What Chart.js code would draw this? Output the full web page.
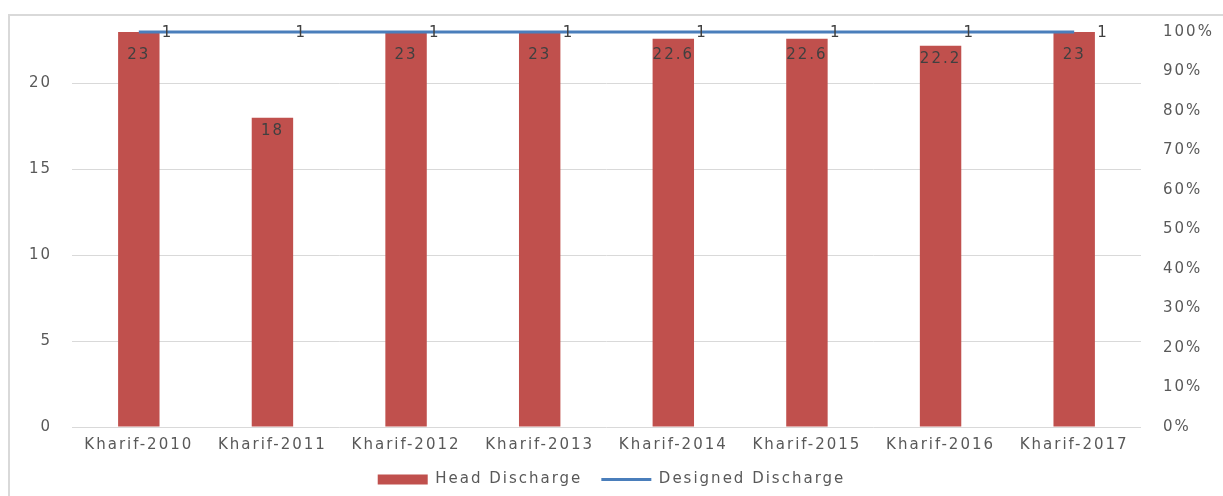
<!DOCTYPE html>
<html>
<head>
<meta charset="utf-8">
<script src="https://cdn.jsdelivr.net/npm/chart.js@4"></script>
<style>
  body { margin: 0; background: #fff; }
  #wrap { width: 1223px; height: 496px; }
</style>
</head>
<body>
<div id="wrap"><canvas id="chart" width="1223" height="496"></canvas></div>
<script>
// data
const categories = ['Kharif-2010', 'Kharif-2011', 'Kharif-2012', 'Kharif-2013', 'Kharif-2014', 'Kharif-2015', 'Kharif-2016', 'Kharif-2017'];
const headDischarge = [23, 18, 23, 23, 22.6, 22.6, 22.2, 23];
const designedDischarge = [1, 1, 1, 1, 1, 1, 1, 1];

Chart.defaults.font.family = 'DejaVu Sans';
Chart.defaults.font.size = 15;
Chart.defaults.color = '#595959';

// wide text look + outer frame
const framePlugin = {
    id: 'frame',
    beforeUpdate(chart) { chart.ctx.letterSpacing = '2px'; },
    beforeDraw(chart) {
        const ctx = chart.ctx;
        ctx.letterSpacing = '2px';
        ctx.save();
        ctx.strokeStyle = '#d9d9d9';
        ctx.lineWidth = 2;
        ctx.strokeRect(9, 15, 1400, 700);
        ctx.restore();
    }
};

// value labels
const labelPlugin = {
    id: 'valueLabels',
    afterDatasetsDraw(chart) {
        const ctx = chart.ctx;
        const top = chart.chartArea.top;
        ctx.save();
        ctx.font = '15px "DejaVu Sans"';
        ctx.fillStyle = '#404040';
        ctx.textBaseline = 'middle';

        ctx.textAlign = 'center';
        chart.getDatasetMeta(0).data.forEach((bar, i) => {
            const y = Math.max(bar.y + 13, top + 23);
            ctx.fillText(String(headDischarge[i]), bar.x, y);
        });

        ctx.textAlign = 'left';
        chart.getDatasetMeta(1).data.forEach((pt, i) => {
            ctx.fillText(String(designedDischarge[i]), pt.x + 23, pt.y + 1);
        });
        ctx.restore();
    }
};

const ctx = document.getElementById('chart').getContext('2d');
new Chart(ctx, {
    type: 'bar',
    data: {
        labels: categories,
        datasets: [{
            label: 'Head Discharge',
            data: headDischarge,
            backgroundColor: '#c0504d',
            yAxisID: 'y',
            order: 2,
            categoryPercentage: 1,
            barPercentage: 0.31
        }, {
            type: 'line',
            label: 'Designed Discharge',
            data: designedDischarge,
            borderColor: '#4a7ebb',
            backgroundColor: '#4a7ebb',
            borderWidth: 3,
            pointRadius: 0,
            clip: false,
            yAxisID: 'y1',
            order: 1
        }]
    },
    options: {
        responsive: false,
        animation: false,
        layout: { padding: { left: 0, right: 0, top: 32, bottom: -1 } },
        plugins: {
            tooltip: { enabled: false },
            legend: {
                position: 'bottom',
                labels: {
                    usePointStyle: true,
                    pointStyleWidth: 50,
                    boxHeight: 10,
                    padding: 19,
                    color: '#595959',
                    sort: (a, b) => a.datasetIndex - b.datasetIndex,
                    generateLabels(chart) {
                        const items = Chart.defaults.plugins.legend.labels.generateLabels(chart);
                        items.forEach(it => {
                            if (it.datasetIndex === 0) { it.pointStyle = 'rect'; it.lineWidth = 0; }
                            else { it.pointStyle = 'line'; it.lineWidth = 3; }
                        });
                        return items;
                    }
                }
            }
        },
        scales: {
            x: {
                grid: { display: false, drawTicks: false },
                border: { display: false },
                ticks: { padding: 9, maxRotation: 0 },
                afterFit(scale) { scale.height = 26; }
            },
            y: {
                position: 'left',
                min: 0,
                max: 23,
                border: { display: false },
                grid: {
                    drawTicks: false,
                    color: c => (c.tick.value % 5 === 0 ? '#d9d9d9' : '#f2f2f2')
                },
                ticks: {
                    stepSize: 1,
                    autoSkip: false,
                    padding: 20,
                    callback: v => (v % 5 === 0 ? v : null)
                },
                afterFit(scale) { scale.width = 72; }
            },
            y1: {
                position: 'right',
                min: 0,
                max: 1,
                border: { display: false },
                grid: { display: false, drawTicks: false },
                ticks: {
                    stepSize: 0.1,
                    padding: 22,
                    callback: v => Math.round(v * 100) + '%'
                },
                afterFit(scale) { scale.width = 82; }
            }
        }
    },
    plugins: [framePlugin, labelPlugin]
});
</script>
</body>
</html>
